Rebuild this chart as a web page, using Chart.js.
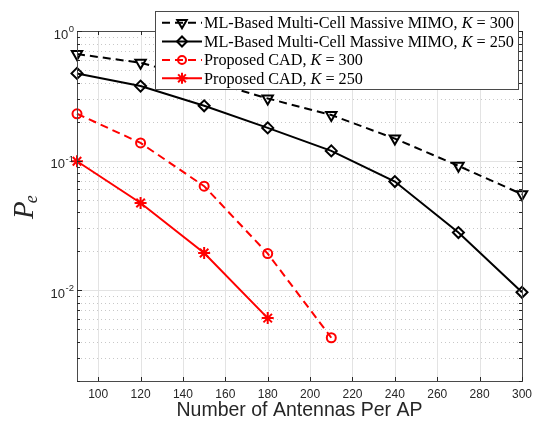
<!DOCTYPE html>
<html><head><meta charset="utf-8">
<script src="https://cdn.jsdelivr.net/npm/chart.js@4/dist/chart.umd.min.js"></script>
<style>html,body{margin:0;padding:0;background:#fff;} #wrap{width:536px;height:423px;}</style>
</head><body><div id="wrap"><canvas id="c" width="536" height="423"></canvas></div>
<script>
// ---- data ----
const antennas = [90, 120, 150, 180, 210, 240, 270, 300];
const mlK300 = [0.664, 0.569, 0.42, 0.302, 0.225, 0.148, 0.0912, 0.0551];
const mlK250 = [0.471, 0.376, 0.265, 0.179, 0.119, 0.069, 0.0279, 0.00966];
const cadK300 = [0.230, 0.137, 0.0636, 0.0192, 0.00431];
const cadK250 = [0.099, 0.0472, 0.0194, 0.00611];
const xTicks = [100, 120, 140, 160, 180, 200, 220, 240, 260, 280, 300];
const yDecades = [-2, -1, 0];
const seriesLabels = [
  ['ML-Based Multi-Cell Massive MIMO, ', 'K', ' = 300'],
  ['ML-Based Multi-Cell Massive MIMO, ', 'K', ' = 250'],
  ['Proposed CAD, ', 'K', ' = 300'],
  ['Proposed CAD, ', 'K', ' = 250']
];
const xTitle = 'Number of Antennas Per AP';

const pts = (vals) => vals.map((v, i) => ({x: antennas[i], y: v}));

const AX = '#262626';
const GRID = '#e3e3e3';

// fit x title font to reference width
const mc = document.createElement('canvas').getContext('2d');
mc.font = '17px "Liberation Sans", Arial, sans-serif';
const xTitleSize = Math.round(17 * 246 / mc.measureText(xTitle).width * 10) / 10;

const datasets = [
  {data: pts(mlK300), borderColor: '#000', borderWidth: 2, borderDash: [8, 5],
   pointStyle: 'triangle', rotation: 180, pointRadius: 6, pointBorderWidth: 2},
  {data: pts(mlK250), borderColor: '#000', borderWidth: 2, borderDash: [],
   pointStyle: 'rectRot', pointRadius: 5.5, pointBorderWidth: 2},
  {data: pts(cadK300), borderColor: '#ff0000', borderWidth: 2, borderDash: [8, 5],
   pointStyle: 'circle', pointRadius: 4.5, pointBorderWidth: 2},
  {data: pts(cadK250), borderColor: '#ff0000', borderWidth: 2, borderDash: [],
   pointStyle: 'star', pointRadius: 6, pointBorderWidth: 2}
];
datasets.forEach(d => {
  d.pointBackgroundColor = 'rgba(0,0,0,0)';
  d.pointBorderColor = d.borderColor;
  d.fill = false;
  d.tension = 0;
  d.clip = false;
});

const decorPlugin = {
  id: 'decor',
  beforeDatasetsDraw(chart) {
    const {ctx, chartArea: a, scales: {x, y}} = chart;
    ctx.save();
    ctx.lineWidth = 1;
    // minor dotted y grid
    ctx.strokeStyle = '#c8c8c8';
    ctx.setLineDash([1, 3]);
    for (let d = -3; d <= 0; d++) {
      for (let m = 2; m <= 9; m++) {
        const v = m * Math.pow(10, d);
        if (v < y.min || v > y.max) continue;
        const py = Math.round(y.getPixelForValue(v)) + 0.5;
        ctx.beginPath(); ctx.moveTo(a.left, py); ctx.lineTo(a.right, py); ctx.stroke();
      }
    }
    ctx.setLineDash([]);
    ctx.strokeStyle = GRID;
    yDecades.forEach(d => {
      const py = Math.round(y.getPixelForValue(Math.pow(10, d))) + 0.5;
      ctx.beginPath(); ctx.moveTo(a.left, py); ctx.lineTo(a.right, py); ctx.stroke();
    });
    xTicks.forEach(v => {
      const px = Math.round(x.getPixelForValue(v)) + 0.5;
      ctx.beginPath(); ctx.moveTo(px, a.top); ctx.lineTo(px, a.bottom); ctx.stroke();
    });
    ctx.restore();
  },
  afterDatasetsDraw(chart) {
    const {ctx, chartArea: a, scales: {x, y}} = chart;
    ctx.save();
    // axes box
    ctx.strokeStyle = '#4a4a4a';
    ctx.lineWidth = 1;
    ctx.strokeRect(Math.round(a.left) + 0.5, Math.round(a.top) + 0.5,
      Math.round(a.right - a.left), Math.round(a.bottom - a.top));
    // ticks inward
    ctx.strokeStyle = AX;
    xTicks.forEach(v => {
      const px = Math.round(x.getPixelForValue(v)) + 0.5;
      ctx.beginPath(); ctx.moveTo(px, a.bottom); ctx.lineTo(px, a.bottom - 4);
      ctx.moveTo(px, a.top); ctx.lineTo(px, a.top + 4); ctx.stroke();
    });
    for (let d = -3; d <= 0; d++) {
      for (let m = 1; m <= 9; m++) {
        const v = m * Math.pow(10, d);
        if (v < y.min || v > y.max) continue;
        const L = m === 1 ? 5 : 3;
        const py = Math.round(y.getPixelForValue(v)) + 0.5;
        ctx.beginPath(); ctx.moveTo(a.left, py); ctx.lineTo(a.left + L, py);
        ctx.moveTo(a.right, py); ctx.lineTo(a.right - L, py); ctx.stroke();
      }
    }
    // y tick labels 10^k
    ctx.fillStyle = AX;
    ctx.textBaseline = 'alphabetic';
    yDecades.forEach(d => {
      const py = y.getPixelForValue(Math.pow(10, d));
      const exp = d === 0 ? '0' : '-' + Math.abs(d);
      ctx.font = '9.5px "Liberation Sans", Arial, sans-serif';
      const we = ctx.measureText(exp).width;
      ctx.font = '13px "Liberation Sans", Arial, sans-serif';
      const wb = ctx.measureText('10').width;
      const right = a.left - 3;
      ctx.textAlign = 'left';
      ctx.fillText('10', right - we - wb - 0.5, py + 7.5);
      ctx.font = '9.5px "Liberation Sans", Arial, sans-serif';
      ctx.fillText(exp, right - we, py + 1);
    });
    // y axis title P_e
    ctx.save();
    ctx.translate(33, 206);
    ctx.rotate(-Math.PI / 2);
    ctx.fillStyle = AX;
    ctx.textAlign = 'left';
    ctx.font = 'italic 29px "Liberation Serif", "DejaVu Serif", serif';
    ctx.fillText('P', -13, 0);
    const wp = ctx.measureText('P').width;
    ctx.font = 'italic 18px "Liberation Serif", "DejaVu Serif", serif';
    ctx.fillText('e', -13 + wp - 2, 4);
    ctx.restore();
    ctx.restore();
  },
  afterDraw(chart) {
    const {ctx} = chart;
    const box = {l: 155, t: 11, r: 519, b: 90};
    ctx.save();
    ctx.fillStyle = '#fff';
    ctx.fillRect(box.l, box.t, box.r - box.l, box.b - box.t);
    ctx.strokeStyle = '#4a4a4a';
    ctx.lineWidth = 1;
    ctx.strokeRect(box.l + 0.5, box.t + 0.5, box.r - box.l - 1, box.b - box.t - 1);
    // font size to fit reference width
    const fam = '"Liberation Serif", "DejaVu Serif", serif';
    ctx.font = '15px ' + fam;
    const t = seriesLabels[0];
    let w = ctx.measureText(t[0] + t[2]).width;
    ctx.font = 'italic 15px ' + fam;
    w += ctx.measureText(t[1]).width;
    const fs = 15 * 310 / w;
    const rows = [22.7, 41.5, 60, 78.3];
    datasets.forEach((d, i) => {
      const ry = rows[i];
      ctx.strokeStyle = d.borderColor;
      ctx.lineWidth = 2;
      ctx.setLineDash(d.borderDash);
      ctx.beginPath(); ctx.moveTo(162, ry); ctx.lineTo(202, ry); ctx.stroke();
      ctx.setLineDash([]);
      ctx.fillStyle = 'rgba(0,0,0,0)';
      Chart.helpers.drawPoint(ctx, {
        pointStyle: d.pointStyle, radius: d.pointRadius - 0.5,
        rotation: d.rotation || 0, borderWidth: 2
      }, 182, ry);
      // text
      ctx.fillStyle = '#000';
      ctx.textBaseline = 'middle';
      ctx.textAlign = 'left';
      let tx = 204;
      const parts = seriesLabels[i];
      parts.forEach((p, k) => {
        ctx.font = (k === 1 ? 'italic ' : '') + fs + 'px ' + fam;
        ctx.fillText(p, tx, ry + 1);
        tx += ctx.measureText(p).width;
      });
    });
    ctx.restore();
  }
};

new Chart(document.getElementById('c'), {
  type: 'line',
  data: {datasets},
  options: {
    responsive: false,
    animation: false,
    devicePixelRatio: 1,
    layout: {padding: {top: 31, right: 14, left: 0, bottom: 0}},
    plugins: {legend: {display: false}, tooltip: {enabled: false}},
    scales: {
      x: {
        type: 'linear', min: 90, max: 300,
        afterBuildTicks: s => { s.ticks = xTicks.map(v => ({value: v})); },
        afterFit: s => { s.height = 42; s.paddingLeft = 0; s.paddingRight = 0; },
        grid: {display: false, drawTicks: false},
        border: {display: false},
        ticks: {color: AX, autoSkip: false, maxRotation: 0, padding: 6,
          font: {family: '"Liberation Sans", Arial, sans-serif', size: 12}},
        title: {display: true, text: xTitle, color: AX, padding: {top: 0, bottom: 1},
          font: {family: '"Liberation Sans", Arial, sans-serif', size: xTitleSize}}
      },
      y: {
        type: 'logarithmic', min: 0.002, max: 1,
        afterBuildTicks: s => { s.ticks = yDecades.map(d => ({value: Math.pow(10, d)})); },
        afterFit: s => { s.width = 77; s.paddingTop = 0; s.paddingBottom = 0; },
        grid: {display: false, drawTicks: false},
        border: {display: false},
        ticks: {display: false}
      }
    }
  },
  plugins: [decorPlugin]
});
</script>
</body></html>
